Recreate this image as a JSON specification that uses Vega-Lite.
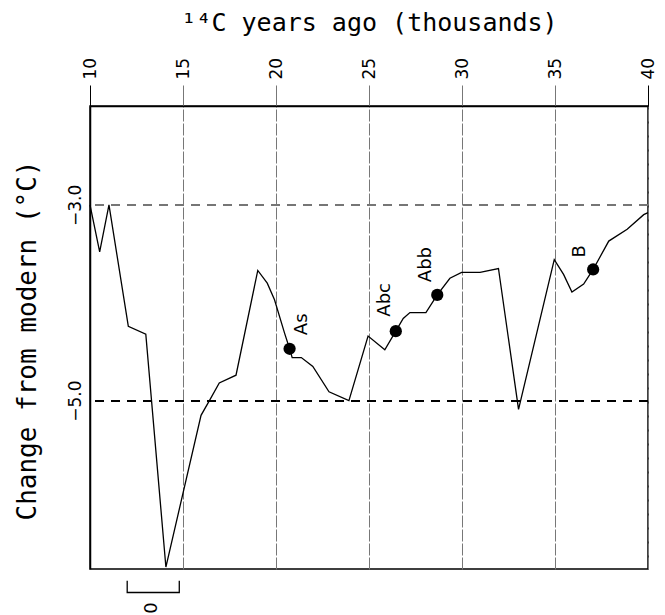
{
  "$schema": "https://vega.github.io/schema/vega-lite/v6.json",
  "autosize": "none",
  "width": 558,
  "height": 463,
  "padding": {"left": 90, "top": 106, "right": 17, "bottom": 46},
  "background": "white",
  "config": {
    "view": {"stroke": "black", "strokeWidth": 1.5},
    "font": "DejaVu Sans"
  },
  "datasets": {
    "curve": [
      {"age": 10.0, "temp": -3.0},
      {"age": 10.52, "temp": -3.48},
      {"age": 11.02, "temp": -3.0},
      {"age": 12.06, "temp": -4.24},
      {"age": 13.0, "temp": -4.32},
      {"age": 14.08, "temp": -6.70},
      {"age": 15.97, "temp": -5.15},
      {"age": 16.45, "temp": -4.99},
      {"age": 16.95, "temp": -4.82},
      {"age": 17.85, "temp": -4.74},
      {"age": 19.02, "temp": -3.67},
      {"age": 19.53, "temp": -3.80},
      {"age": 19.92, "temp": -3.97},
      {"age": 20.46, "temp": -4.31},
      {"age": 20.73, "temp": -4.47},
      {"age": 20.87, "temp": -4.56},
      {"age": 21.36, "temp": -4.56},
      {"age": 21.98, "temp": -4.65},
      {"age": 22.85, "temp": -4.91},
      {"age": 23.92, "temp": -5.0},
      {"age": 24.95, "temp": -4.34},
      {"age": 25.85, "temp": -4.48},
      {"age": 26.44, "temp": -4.29},
      {"age": 26.84, "temp": -4.16},
      {"age": 27.20, "temp": -4.10},
      {"age": 28.06, "temp": -4.10},
      {"age": 28.67, "temp": -3.92},
      {"age": 29.35, "temp": -3.75},
      {"age": 29.98, "temp": -3.69},
      {"age": 30.97, "temp": -3.69},
      {"age": 31.96, "temp": -3.65},
      {"age": 33.04, "temp": -5.09},
      {"age": 34.96, "temp": -3.56},
      {"age": 35.46, "temp": -3.71},
      {"age": 35.91, "temp": -3.89},
      {"age": 36.54, "temp": -3.81},
      {"age": 37.05, "temp": -3.66},
      {"age": 37.89, "temp": -3.37},
      {"age": 38.88, "temp": -3.25},
      {"age": 39.77, "temp": -3.10},
      {"age": 40.0, "temp": -3.08}
    ],
    "sites": [
      {"name": "As", "age": 20.73, "temp": -4.47, "labelAge": 21.38, "labelTemp": -4.22},
      {"name": "Abc", "age": 26.44, "temp": -4.29, "labelAge": 25.85, "labelTemp": -3.97},
      {"name": "Abb", "age": 28.67, "temp": -3.92, "labelAge": 28.09, "labelTemp": -3.61},
      {"name": "B", "age": 37.05, "temp": -3.66, "labelAge": 36.33, "labelTemp": -3.475}
    ],
    "bracket": [
      {"order": 1, "age": 12.0, "temp": -6.84},
      {"order": 2, "age": 12.0, "temp": -6.96},
      {"order": 3, "age": 14.8, "temp": -6.96},
      {"order": 4, "age": 14.8, "temp": -6.84}
    ],
    "bracketLabel": [
      {"label": "0", "age": 13.35, "temp": -7.12}
    ]
  },
  "layer": [
    {
      "data": {"name": "curve"},
      "mark": {"type": "rule", "stroke": "#777777", "strokeWidth": 1.2, "strokeDash": [9, 7]},
      "encoding": {"y": {"datum": -3.0, "type": "quantitative"}}
    },
    {
      "data": {"name": "curve"},
      "mark": {"type": "rule", "stroke": "black", "strokeWidth": 1.2, "strokeDash": [9, 7]},
      "encoding": {"y": {"datum": -5.0, "type": "quantitative"}}
    },
    {
      "data": {"name": "curve"},
      "mark": {"type": "line", "color": "black", "strokeWidth": 1.3},
      "encoding": {
        "x": {
          "field": "age",
          "type": "quantitative",
          "scale": {"domain": [10, 40], "nice": false, "zero": false},
          "axis": {
            "orient": "top",
            "values": [10, 15, 20, 25, 30, 35, 40],
            "title": "¹⁴C years ago (thousands)",
            "titleFont": "DejaVu Sans Mono",
            "titleFontSize": 25,
            "titleFontWeight": "normal",
            "titleColor": "black",
            "titleBaseline": "alphabetic",
            "titleY": -76,
            "labelAngle": -90,
            "labelAlign": "left",
            "labelBaseline": "middle",
            "labelFont": "DejaVu Sans",
            "labelFontSize": 17,
            "labelColor": "black",
            "labelPadding": 6,
            "tickSize": 21,
            "tickWidth": 1,
            "tickColor": {"condition": {"test": "datum.value == 10 || datum.value == 40", "value": "black"}, "value": "#777777"},
            "domain": true,
            "domainColor": "black",
            "domainWidth": 1.5,
            "grid": true,
            "gridColor": "#777777",
            "gridWidth": 1,
            "gridDash": [12, 2]
          }
        },
        "y": {
          "field": "temp",
          "type": "quantitative",
          "scale": {"domain": [-6.72, -1.99], "nice": false, "zero": false},
          "axis": {
            "orient": "left",
            "values": [-3, -5],
            "format": ".1f",
            "title": "Change from modern (°C)",
            "titleFont": "DejaVu Sans Mono",
            "titleFontSize": 26,
            "titleFontWeight": "normal",
            "titleColor": "black",
            "titleAngle": -90,
            "titleAlign": "center",
            "titleBaseline": "middle",
            "titleX": -63,
            "titleY": 234,
            "labelAngle": -90,
            "labelAlign": "center",
            "labelBaseline": "bottom",
            "labelFont": "DejaVu Sans",
            "labelFontSize": 17,
            "labelColor": "black",
            "labelPadding": 6,
            "ticks": false,
            "domain": true,
            "domainColor": "black",
            "domainWidth": 1.5,
            "grid": false
          }
        }
      }
    },
    {
      "data": {"name": "sites"},
      "mark": {"type": "point", "filled": true, "color": "black", "size": 150, "opacity": 1},
      "encoding": {
        "x": {"field": "age", "type": "quantitative"},
        "y": {"field": "temp", "type": "quantitative"}
      }
    },
    {
      "data": {"name": "sites"},
      "mark": {"type": "text", "angle": 270, "align": "center", "baseline": "middle", "fontSize": 18, "font": "DejaVu Sans", "color": "black"},
      "encoding": {
        "x": {"field": "labelAge", "type": "quantitative"},
        "y": {"field": "labelTemp", "type": "quantitative"},
        "text": {"field": "name"}
      }
    },
    {
      "data": {"name": "bracket"},
      "mark": {"type": "line", "color": "black", "strokeWidth": 1.3, "clip": false},
      "encoding": {
        "x": {"field": "age", "type": "quantitative"},
        "y": {"field": "temp", "type": "quantitative"},
        "order": {"field": "order"}
      }
    },
    {
      "data": {"name": "bracketLabel"},
      "mark": {"type": "text", "angle": 270, "align": "center", "baseline": "middle", "fontSize": 18, "font": "DejaVu Sans", "color": "black", "clip": false},
      "encoding": {
        "x": {"field": "age", "type": "quantitative"},
        "y": {"field": "temp", "type": "quantitative"},
        "text": {"field": "label"}
      }
    }
  ]
}
